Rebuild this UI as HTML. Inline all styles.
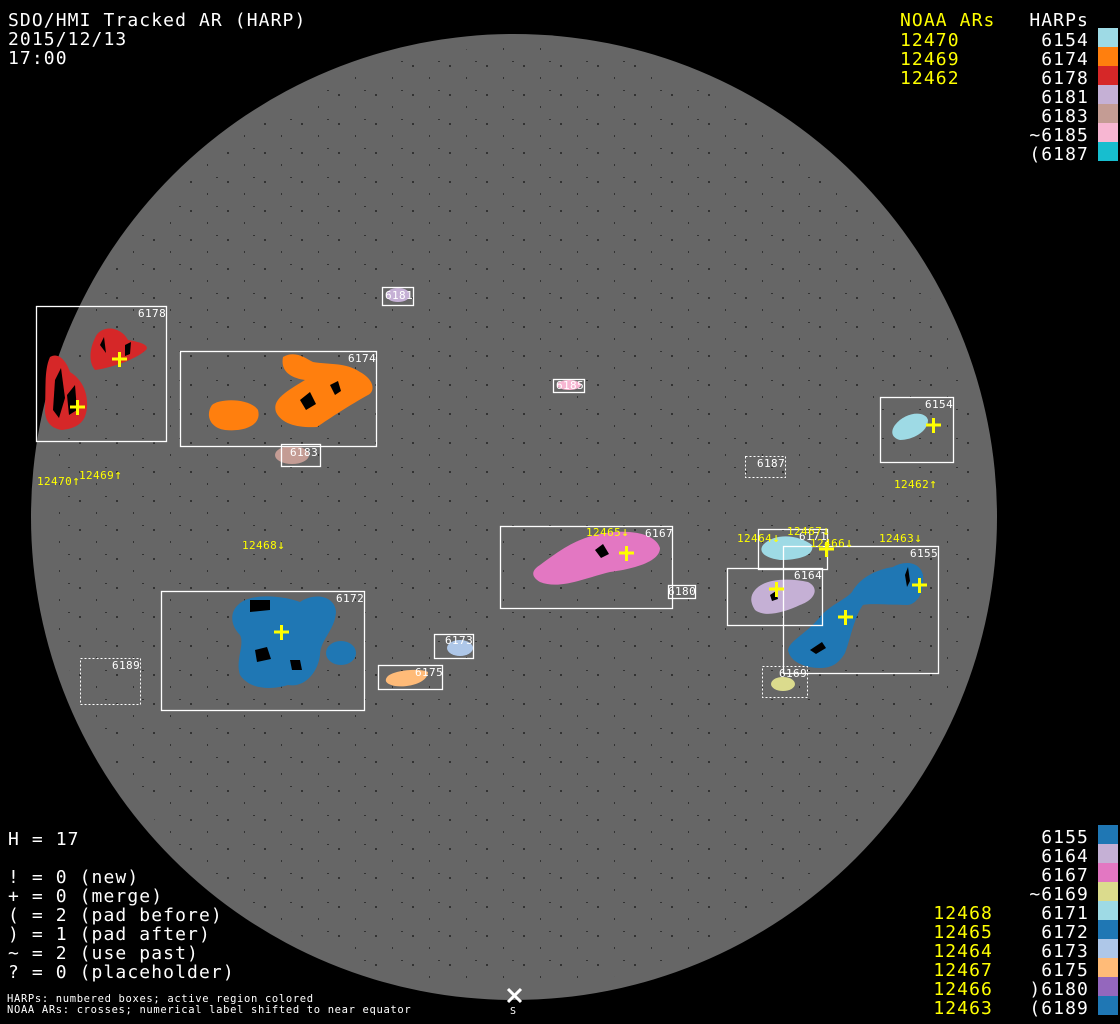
<!DOCTYPE html>
<html><head><meta charset="utf-8"><style>
html,body{margin:0;padding:0;background:#000;width:1120px;height:1024px;overflow:hidden}
svg{display:block}
text{font-family:"DejaVu Sans Mono","Liberation Mono",monospace}
.big{font-size:18px;letter-spacing:1.1px}
</style></head><body>
<svg width="1120" height="1024" viewBox="0 0 1120 1024" xmlns="http://www.w3.org/2000/svg">
<defs>
<pattern id="sp" width="37" height="29" patternUnits="userSpaceOnUse">
<rect x="5" y="7" width="2" height="2" fill="#000"/>
<rect x="22" y="19" width="1" height="2" fill="#000"/>
<rect x="31" y="3" width="2" height="1" fill="#000"/>
</pattern>
</defs>
<rect width="1120" height="1024" fill="#000"/>
<circle cx="514" cy="517" r="483" fill="#666"/>
<circle cx="514" cy="517" r="470" fill="url(#sp)" opacity="0.5"/>

<!-- blobs -->
<g>
<path d="M95,338 C100,325 120,325 128,340 C140,342 150,345 146,350 C135,360 110,368 95,370 C88,362 90,348 95,338Z" fill="#d62728"/>
<path d="M50,357 C58,352 66,360 70,372 C80,378 88,390 87,407 C86,420 80,428 62,430 C48,428 44,418 45,405 C46,390 44,370 50,357Z" fill="#d62728"/>
<path d="M212,405 C220,398 250,398 258,410 C262,425 245,432 225,430 C210,428 205,415 212,405Z" fill="#ff7f0e"/>
<path d="M283,357 C295,350 305,358 313,362 C330,365 345,362 360,372 C375,380 375,392 368,395 C350,405 330,418 317,427 C300,428 282,425 276,412 C272,400 285,392 305,380 C292,378 280,372 283,357Z" fill="#ff7f0e"/>
<ellipse cx="292" cy="455" rx="17" ry="9" fill="#c49c94"/>
<ellipse cx="398" cy="295" rx="12" ry="7" fill="#c5b0d5"/>
<ellipse cx="569" cy="385" rx="12" ry="5" fill="#f7b6d2"/>
<path d="M895,425 C905,412 925,410 928,420 C928,432 912,440 900,440 C892,438 890,432 895,425Z" fill="#9edae5"/>
<path d="M540,565 C560,550 575,540 595,535 C625,528 655,532 660,548 C660,560 640,568 610,572 C585,578 560,590 540,582 C530,576 532,570 540,565Z" fill="#e377c2"/>
<path d="M238,605 C250,592 285,596 300,602 C315,592 335,596 336,612 C335,630 320,640 320,655 C318,672 305,688 288,685 C272,690 250,690 240,675 C235,660 245,645 240,635 C230,625 230,612 238,605Z" fill="#1f77b4"/>
<ellipse cx="341" cy="653" rx="15" ry="12" fill="#1f77b4"/>
<ellipse cx="460" cy="648" rx="13" ry="8" fill="#aec7e8"/>
<path d="M388,676 C395,670 420,668 428,672 C428,682 410,688 395,686 C385,684 384,680 388,676Z" fill="#ffbb78"/>
<path d="M763,545 C775,532 800,535 812,545 C815,555 800,560 780,560 C765,558 758,552 763,545Z" fill="#9edae5"/>
<path d="M755,590 C765,578 790,578 808,582 C820,588 815,600 800,605 C785,612 765,618 755,610 C750,602 750,596 755,590Z" fill="#c5b0d5"/>
<path d="M788,650 C790,640 805,635 820,617 C830,605 845,600 852,592 C860,578 875,570 893,567 C905,560 920,562 923,575 C925,595 915,605 907,605 C890,605 870,603 863,605 C855,615 850,640 845,653 C838,665 830,668 820,668 C805,668 790,662 788,650Z" fill="#1f77b4"/>
<ellipse cx="783" cy="684" rx="12" ry="7" fill="#dbdb8d"/>
</g>
<!-- dark spots -->
<g fill="#000">
<path d="M55,380l6,-12l4,30l-6,20l-6,-8z"/>
<path d="M67,395l8,-10l2,25l-8,5z"/>
<path d="M100,345l4,-8l2,16z"/>
<path d="M125,345l6,-3l-1,12l-5,2z"/>
<path d="M300,400l10,-8l6,12l-10,6z"/>
<path d="M330,385l8,-4l3,10l-6,4z"/>
<path d="M250,600l20,0l0,10l-20,2z"/>
<path d="M255,650l12,-3l4,12l-14,3z"/>
<path d="M290,660l10,0l2,10l-10,0z"/>
<path d="M595,550l8,-6l6,10l-8,4z"/>
<path d="M810,650l12,-8l4,6l-10,6z"/>
<path d="M905,575l3,-8l2,14l-3,6z"/>
<path d="M770,595l6,-4l2,8l-6,2z"/>
</g>

<!-- boxes -->
<g fill="none" stroke="#fff" stroke-width="1.3">
<rect x="36.5" y="306.5" width="130" height="135"/>
<rect x="180.5" y="351.5" width="196" height="95"/>
<rect x="382.5" y="287.5" width="31" height="18"/>
<rect x="553.5" y="379.5" width="31" height="13"/>
<rect x="281.5" y="444.5" width="39" height="22"/>
<rect x="880.5" y="397.5" width="73" height="65"/>
<rect x="500.5" y="526.5" width="172" height="82"/>
<rect x="668.5" y="585.5" width="27" height="13"/>
<rect x="161.5" y="591.5" width="203" height="119"/>
<rect x="434.5" y="634.5" width="39" height="24"/>
<rect x="378.5" y="665.5" width="64" height="24"/>
<rect x="758.5" y="529.5" width="69" height="40"/>
<rect x="727.5" y="568.5" width="95" height="57"/>
<rect x="783.5" y="546.5" width="155" height="127"/>
</g>
<g fill="none" stroke="#fff" stroke-width="1" stroke-dasharray="2,2">
<rect x="745.5" y="456.5" width="40" height="21"/>
<rect x="80.5" y="658.5" width="60" height="46"/>
<rect x="762.5" y="666.5" width="45" height="31"/>
</g>

<!-- box labels -->
<g fill="#fff" font-size="11" letter-spacing="0.4">
<text x="138" y="317">6178</text>
<text x="348" y="362">6174</text>
<text x="385" y="299">6181</text>
<text x="556" y="389">6185</text>
<text x="290" y="456">6183</text>
<text x="925" y="408">6154</text>
<text x="757" y="467">6187</text>
<text x="645" y="537">6167</text>
<text x="668" y="595">6180</text>
<text x="336" y="602">6172</text>
<text x="445" y="644">6173</text>
<text x="415" y="676">6175</text>
<text x="112" y="669">6189</text>
<text x="799" y="540">6171</text>
<text x="794" y="579">6164</text>
<text x="910" y="557">6155</text>
<text x="779" y="677">6169</text>
</g>

<!-- crosses -->
<g stroke="#ff0" stroke-width="3">
<path d="M112,359h15M119.5,352v15"/>
<path d="M70,407h15M77.5,400v15"/>
<path d="M926,425h15M933.5,418v15"/>
<path d="M619,553h15M626.5,546v15"/>
<path d="M274,632h15M281.5,625v15"/>
<path d="M819,549h15M826.5,542v15"/>
<path d="M769,589h15M776.5,582v15"/>
<path d="M838,617h15M845.5,610v15"/>
<path d="M912,585h15M919.5,578v15"/>
</g>

<!-- NOAA labels -->
<g fill="#ff0" font-size="11" letter-spacing="0.4">
<text x="37" y="485">12470<tspan font-size="13">↑</tspan></text>
<text x="79" y="479">12469<tspan font-size="13">↑</tspan></text>
<text x="894" y="488">12462<tspan font-size="13">↑</tspan></text>
<text x="242" y="549">12468<tspan font-size="13">↓</tspan></text>
<text x="586" y="536">12465<tspan font-size="13">↓</tspan></text>
<text x="737" y="542">12464<tspan font-size="13">↓</tspan></text>
<text x="787" y="535">12467<tspan font-size="13">↓</tspan></text>
<text x="810" y="547">12466<tspan font-size="13">↓</tspan></text>
<text x="879" y="542">12463<tspan font-size="13">↓</tspan></text>
</g>

<!-- header -->
<g fill="#fff" class="big">
<text x="8" y="26">SDO/HMI Tracked AR (HARP)</text>
<text x="8" y="45">2015/12/13</text>
<text x="8" y="64">17:00</text>
</g>
<g class="big">
<text x="900" y="26" fill="#ff0">NOAA ARs</text>
<text x="1089" y="26" fill="#fff" text-anchor="end">HARPs</text>
<g fill="#ff0">
<text x="900" y="46">12470</text>
<text x="900" y="65">12469</text>
<text x="900" y="84">12462</text>
</g>
<g fill="#fff" text-anchor="end">
<text x="1089" y="46">6154</text>
<text x="1089" y="65">6174</text>
<text x="1089" y="84">6178</text>
<text x="1089" y="103">6181</text>
<text x="1089" y="122">6183</text>
<text x="1089" y="141">~6185</text>
<text x="1089" y="160">(6187</text>
</g>
</g>
<rect x="1098" y="28" width="20" height="19" fill="#9edae5"/>
<rect x="1098" y="47" width="20" height="19" fill="#ff7f0e"/>
<rect x="1098" y="66" width="20" height="19" fill="#d62728"/>
<rect x="1098" y="85" width="20" height="19" fill="#c5b0d5"/>
<rect x="1098" y="104" width="20" height="19" fill="#c49c94"/>
<rect x="1098" y="123" width="20" height="19" fill="#f7b6d2"/>
<rect x="1098" y="142" width="20" height="19" fill="#17becf"/>

<!-- bottom right legend -->
<g class="big">
<g fill="#fff" text-anchor="end">
<text x="1089" y="843">6155</text>
<text x="1089" y="862">6164</text>
<text x="1089" y="881">6167</text>
<text x="1089" y="900">~6169</text>
<text x="1089" y="919">6171</text>
<text x="1089" y="938">6172</text>
<text x="1089" y="957">6173</text>
<text x="1089" y="976">6175</text>
<text x="1089" y="995">)6180</text>
<text x="1089" y="1014">(6189</text>
</g>
<g fill="#ff0" text-anchor="end">
<text x="993" y="919">12468</text>
<text x="993" y="938">12465</text>
<text x="993" y="957">12464</text>
<text x="993" y="976">12467</text>
<text x="993" y="995">12466</text>
<text x="993" y="1014">12463</text>
</g>
</g>
<rect x="1098" y="825" width="20" height="19" fill="#1f77b4"/>
<rect x="1098" y="844" width="20" height="19" fill="#c5b0d5"/>
<rect x="1098" y="863" width="20" height="19" fill="#e377c2"/>
<rect x="1098" y="882" width="20" height="19" fill="#dbdb8d"/>
<rect x="1098" y="901" width="20" height="19" fill="#9edae5"/>
<rect x="1098" y="920" width="20" height="19" fill="#1f77b4"/>
<rect x="1098" y="939" width="20" height="19" fill="#aec7e8"/>
<rect x="1098" y="958" width="20" height="19" fill="#ffbb78"/>
<rect x="1098" y="977" width="20" height="19" fill="#9467bd"/>
<rect x="1098" y="996" width="20" height="19" fill="#1f77b4"/>

<!-- bottom left legend -->
<g fill="#fff" class="big">
<text x="8" y="845">H = 17</text>
<text x="8" y="883">! = 0 (new)</text>
<text x="8" y="902">+ = 0 (merge)</text>
<text x="8" y="921">( = 2 (pad before)</text>
<text x="8" y="940">) = 1 (pad after)</text>
<text x="8" y="959">~ = 2 (use past)</text>
<text x="8" y="978">? = 0 (placeholder)</text>
</g>
<g fill="#fff" font-size="10.5" letter-spacing="0.65">
<text x="7" y="1002">HARPs: numbered boxes; active region colored</text>
<text x="7" y="1013">NOAA ARs: crosses; numerical label shifted to near equator</text>
</g>
<path d="M508,989l13,13M521,989l-13,13" stroke="#fff" stroke-width="3"/>
<text x="510" y="1014" fill="#fff" font-size="10">S</text>
</svg>
</body></html>
